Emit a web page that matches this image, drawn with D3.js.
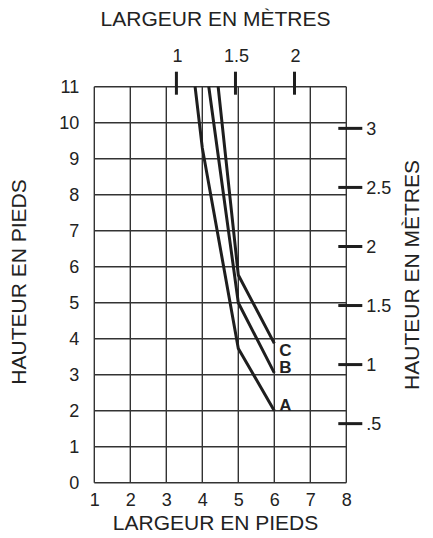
<!DOCTYPE html>
<html>
<head>
<meta charset="utf-8">
<script src="https://cdn.jsdelivr.net/npm/d3@7"></script>
<style>
  html, body { margin: 0; padding: 0; background: #fff; }
  svg { display: block; }
  text { font-family: "Liberation Sans", Arial, Helvetica, sans-serif; fill: #222; }
</style>
</head>
<body>
<svg id="chart" width="433" height="538"></svg>
<script>
// ---- data ----
const xFeetTicks = [1, 2, 3, 4, 5, 6, 7, 8];
const yFeetTicks = [0, 1, 2, 3, 4, 5, 6, 7, 8, 9, 10, 11];
const xMeterTicks = [1, 1.5, 2];
const xMeterLabels = ["1", "1.5", "2"];
const yMeterTicks = [0.5, 1, 1.5, 2, 2.5, 3];
const yMeterLabels = [".5", "1", "1.5", "2", "2.5", "3"];
const FEET_PER_METER = 3.28084;

const seriesNames = ["A", "B", "C"];
const seriesA = [[3.80, 11], [4.0, 9.3], [4.31, 7.575], [5.0, 3.73], [6.0, 2.0]];
const seriesB = [[4.18, 11], [5.0, 5.0], [6.0, 3.05]];
const seriesC = [[4.44, 11], [5.0, 5.77], [6.0, 3.87]];

// ---- layout ----
const svg = d3.select("#chart");
const pLeft = 94.3, pRight = 346.3, pTop = 86.7, pBottom = 482.7;

const x = d3.scaleLinear().domain([1, 8]).range([pLeft, pRight]);
const y = d3.scaleLinear().domain([0, 11]).range([pBottom, pTop]);

const ink = "#1e1e1e";

// grid
const grid = svg.append("g");
grid.selectAll("line.v").data(xFeetTicks).join("line")
  .attr("x1", d => x(d)).attr("x2", d => x(d))
  .attr("y1", pTop).attr("y2", pBottom)
  .attr("stroke", "#333").attr("stroke-width", 1.4);
grid.selectAll("line.h").data(yFeetTicks).join("line")
  .attr("x1", pLeft).attr("x2", pRight)
  .attr("y1", d => y(d)).attr("y2", d => y(d))
  .attr("stroke", "#333").attr("stroke-width", 1.4);

// bottom axis labels (feet)
const axB = d3.axisBottom(x).tickValues(xFeetTicks).tickSize(0).tickPadding(0).tickFormat(d3.format("d"));
const gB = svg.append("g").attr("transform", `translate(0,${pBottom + 23})`).call(axB);
gB.select(".domain").remove();
gB.selectAll("text").attr("font-size", 18).attr("fill", "#222").attr("dy", 0)
  .style("font-family", "Liberation Sans, Arial, sans-serif");

// left axis labels (feet)
const axL = d3.axisLeft(y).tickValues(yFeetTicks).tickSize(0).tickPadding(0).tickFormat(d3.format("d"));
const gL = svg.append("g").attr("transform", `translate(${pLeft - 15},0)`).call(axL);
gL.select(".domain").remove();
gL.selectAll("text").attr("font-size", 18).attr("fill", "#222")
  .style("font-family", "Liberation Sans, Arial, sans-serif");

// top meter ticks
svg.append("g").selectAll("line").data(xMeterTicks).join("line")
  .attr("x1", d => x(d * FEET_PER_METER)).attr("x2", d => x(d * FEET_PER_METER))
  .attr("y1", pTop - 15).attr("y2", pTop + 8)
  .attr("stroke", ink).attr("stroke-width", 3);
svg.append("g").selectAll("text").data(xMeterTicks).join("text")
  .attr("x", d => x(d * FEET_PER_METER) + 1).attr("y", 62)
  .attr("text-anchor", "middle").attr("font-size", 18)
  .text((d, i) => xMeterLabels[i]);

// right meter ticks
svg.append("g").selectAll("line").data(yMeterTicks).join("line")
  .attr("x1", pRight - 8).attr("x2", pRight + 16)
  .attr("y1", d => y(d * FEET_PER_METER)).attr("y2", d => y(d * FEET_PER_METER))
  .attr("stroke", ink).attr("stroke-width", 3);
svg.append("g").selectAll("text").data(yMeterTicks).join("text")
  .attr("x", pRight + 20).attr("y", d => y(d * FEET_PER_METER))
  .attr("dy", "0.35em").attr("font-size", 18)
  .text((d, i) => yMeterLabels[i]);

// series lines
const line = d3.line().x(d => x(d[0])).y(d => y(d[1]));
const allSeries = [seriesA, seriesB, seriesC];
svg.append("g").selectAll("path").data(allSeries).join("path")
  .attr("d", line).attr("fill", "none")
  .attr("stroke", ink).attr("stroke-width", 3).attr("stroke-linejoin", "miter");

// series labels at end points
const labelDy = { A: 0, B: 0.5, C: 12.5 };
svg.append("g").selectAll("text").data(allSeries).join("text")
  .attr("x", d => x(d[d.length - 1][0]) + 5)
  .attr("y", (d, i) => y(d[d.length - 1][1]) + labelDy[seriesNames[i]])
  .attr("font-size", 17).attr("font-weight", "bold")
  .text((d, i) => seriesNames[i]);

// titles
svg.append("text").attr("x", 215.5).attr("y", 26).attr("text-anchor", "middle")
  .attr("font-size", 21).text("LARGEUR EN MÈTRES");
svg.append("text").attr("x", 215.5).attr("y", 530).attr("text-anchor", "middle")
  .attr("font-size", 21).text("LARGEUR EN PIEDS");
svg.append("text").attr("transform", "translate(26,282) rotate(-90)")
  .attr("text-anchor", "middle").attr("font-size", 21).text("HAUTEUR EN PIEDS");
svg.append("text").attr("transform", "translate(419,275) rotate(-90)")
  .attr("text-anchor", "middle").attr("font-size", 21).text("HAUTEUR EN MÈTRES");
</script>
</body>
</html>
